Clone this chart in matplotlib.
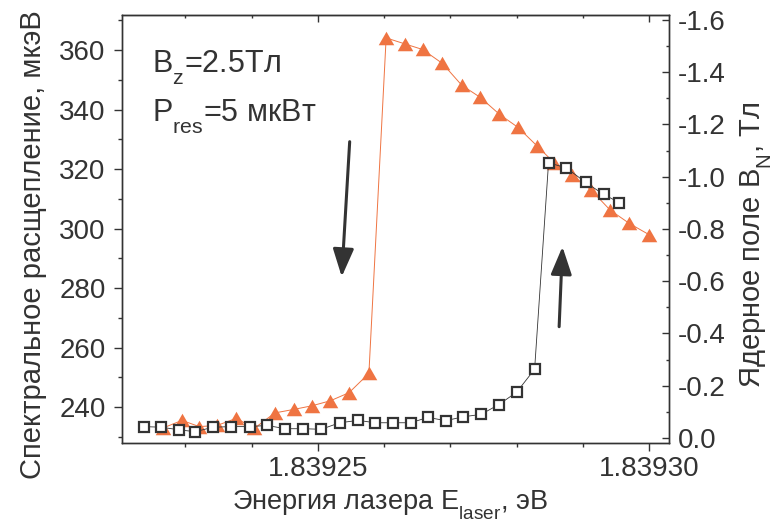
import numpy as np
import matplotlib
matplotlib.use('Agg')
import matplotlib.pyplot as plt
from matplotlib import _mathtext
from matplotlib.ticker import MultipleLocator, FixedLocator, FormatStrFormatter

plt.rcParams['font.family'] = ['Liberation Sans', 'DejaVu Sans']
plt.rcParams['mathtext.default'] = 'regular'
plt.rcParams['axes.unicode_minus'] = False
# индексы пониже, как в Origin
_mathtext.FontConstantsBase.sub1 = 0.72

# развертка вниз по энергии (треугольники)
e_down = [1.8392266, 1.8392295, 1.8392321, 1.8392348, 1.8392377, 1.8392404,
          1.8392435, 1.8392464, 1.8392491, 1.8392519, 1.8392547, 1.8392577,
          1.8392603, 1.8392631, 1.8392658, 1.8392688, 1.8392717, 1.8392745,
          1.8392774, 1.8392802, 1.8392831, 1.8392857, 1.8392884, 1.8392912,
          1.8392941, 1.8392970, 1.8393000]
s_down = [232.9, 235.5, 233.4, 233.8, 236.2, 232.8, 238.0, 239.2, 240.4,
          242.1, 244.8, 251.3, 364.1, 362.1, 360.2, 355.5, 348.2, 344.1,
          338.4, 334.0, 327.7, 322.0, 317.9, 313.0, 306.2, 301.7, 297.9]

# развертка вверх (квадраты)
e_up = [1.8392238, 1.8392264, 1.8392291, 1.8392315, 1.8392342, 1.8392369,
        1.8392397, 1.8392423, 1.8392451, 1.8392478, 1.8392505, 1.8392533,
        1.8392561, 1.8392586, 1.8392613, 1.8392640, 1.8392666, 1.8392693,
        1.8392719, 1.8392746, 1.8392773, 1.8392800, 1.8392827, 1.8392848,
        1.8392875, 1.8392904, 1.8392931, 1.8392955]
s_up = [233.4, 233.2, 232.3, 231.7, 233.2, 233.4, 233.4, 233.8, 232.7,
        232.7, 232.5, 234.7, 235.5, 234.7, 234.7, 234.7, 236.5, 235.4,
        236.7, 237.5, 240.8, 245.0, 252.7, 322.1, 320.4, 315.5, 311.5, 308.7]

bn_ticks = [0.0, -0.2, -0.4, -0.6, -0.8, -1.0, -1.2, -1.4, -1.6]

orange = '#EF7442'
dark = '#333333'
# треугольник пошире стандартного '^'
tri = [(0, 1), (-1.15, -1), (1.15, -1)]

fig = plt.figure(figsize=(7.74, 5.30), dpi=100)
ax = fig.add_axes([0.1572, 0.1642, 0.7065, 0.8075])

ax.plot(e_down, s_down, '-', color=orange, lw=0.7, marker=tri, ms=11.2,
        mfc=orange, mec=orange, mew=0, zorder=2)
ax.plot(e_up, s_up, '-', color=dark, lw=0.6, marker='s', ms=6.5,
        mfc='white', mec=dark, mew=1.6, zorder=3)

# стрелки направления развертки
arr = dict(arrowstyle='-|>,head_length=0.85,head_width=0.32', mutation_scale=20,
           color=dark, lw=2.2, shrinkA=0, shrinkB=0)
ax.annotate('', xy=(1.8392536, 283.8), xytext=(1.8392548, 329.2), arrowprops=arr)
ax.annotate('', xy=(1.8392869, 293.9), xytext=(1.8392864, 267.0), arrowprops=arr)

ax.text(0.055, 0.864, r'B$_{z}$=2.5Тл', transform=ax.transAxes, fontsize=22,
        color=dark, va='baseline')
ax.text(0.055, 0.751, r'P$_{res}$=5 мкВт', transform=ax.transAxes, fontsize=22,
        color=dark, va='baseline')

ax.set_xlim(1.8392204, 1.8393029)
ax.set_ylim(227.9, 371.8)

ax.xaxis.set_major_locator(MultipleLocator(5e-5))
ax.xaxis.set_minor_locator(MultipleLocator(1e-5))
ax.xaxis.set_major_formatter(FormatStrFormatter('%.5f'))
ax.yaxis.set_major_locator(MultipleLocator(20))
ax.yaxis.set_minor_locator(MultipleLocator(10))

ax.tick_params(which='both', direction='out', colors=dark, labelsize=20,
               width=1.0, right=False, top=False)
ax.tick_params(which='major', length=5.5, pad=4)
ax.tick_params(which='minor', length=3)
ax.tick_params(axis='y', pad=6)

top = ax.secondary_xaxis('top')
top.xaxis.set_major_locator(MultipleLocator(5e-5))
top.xaxis.set_minor_locator(MultipleLocator(1e-5))
top.tick_params(which='both', direction='in', labeltop=False, colors=dark, width=1.0)
top.tick_params(which='major', length=5)
top.tick_params(which='minor', length=2.5)

ax2 = ax.twinx()
ax2.set_ylim(0.0191, -1.6191)
ax2.yaxis.set_major_locator(FixedLocator(bn_ticks))
ax2.yaxis.set_minor_locator(MultipleLocator(0.1))
ax2.yaxis.set_major_formatter(FormatStrFormatter('%.1f'))
ax2.tick_params(which='both', direction='in', colors=dark, labelsize=20, width=1.0)
ax2.tick_params(which='major', length=5, pad=7)
ax2.tick_params(which='minor', length=2.5)

for a in (ax, ax2):
    for sp in a.spines.values():
        sp.set_color(dark)
        sp.set_linewidth(1.0)
top.spines['top'].set_color(dark)

ax.set_xlabel(r'Энергия лазера E$_{laser}$, эВ', fontsize=19.5, color=dark)
ax.set_ylabel('Спектральное расщепление, мкэВ', fontsize=21, color=dark)
ax2.set_ylabel(r'Ядерное поле B$_{N}$, Тл', fontsize=21, color=dark)
ax.xaxis.set_label_coords(0.49, -0.105)
ax.yaxis.set_label_coords(-0.137, 0.463)
ax2.yaxis.set_label_coords(1.128, 0.463)

fig.savefig('out.png', dpi=100)
